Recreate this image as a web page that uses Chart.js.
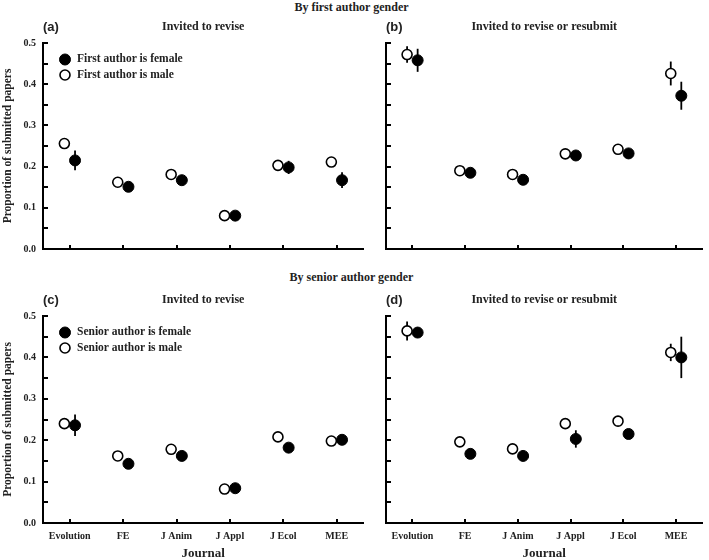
<!DOCTYPE html>
<html>
<head>
<meta charset="utf-8">
<script src="https://cdn.jsdelivr.net/npm/chart.js@4.4.1/dist/chart.umd.min.js"></script>
<style>
body { margin:0; background:#fff; width:709px; height:560px; position:relative; overflow:hidden; font-family:"Liberation Serif", serif; }
.box { position:absolute; }
.head { position:absolute; left:-3px; width:709px; text-align:center; font-weight:bold; font-size:12px; line-height:14px; color:#222; }
</style>
</head>
<body>
<div class="head" style="top:0px">By first author gender</div>
<div class="head" style="top:270px">By senior author gender</div>
<div class="box" style="left:0;top:0;width:370px;height:262px"><canvas id="chartA"></canvas></div>
<div class="box" style="left:370px;top:0;width:339px;height:262px"><canvas id="chartB"></canvas></div>
<div class="box" style="left:0;top:262px;width:370px;height:298px"><canvas id="chartC"></canvas></div>
<div class="box" style="left:370px;top:262px;width:339px;height:298px"><canvas id="chartD"></canvas></div>
<script>
var journals = ['Evolution', 'FE', 'J Anim', 'J Appl', 'J Ecol', 'MEE'];

// (a) first author, invited to revise
var aFemale    = [0.215, 0.151, 0.167, 0.081, 0.198, 0.167];
var aFemaleErr = [0.024, 0.007, 0.007, 0.006, 0.016, 0.019];
var aMale      = [0.256, 0.162, 0.181, 0.081, 0.203, 0.211];
var aMaleErr   = [0.008, 0.006, 0.006, 0.005, 0.006, 0.007];

// (b) first author, invited to revise or resubmit
var bFemale    = [0.458, 0.185, 0.168, 0.227, 0.232, 0.372];
var bFemaleErr = [0.028, 0.007, 0.007, 0.007, 0.007, 0.034];
var bMale      = [0.472, 0.190, 0.181, 0.231, 0.242, 0.426];
var bMaleErr   = [0.020, 0.007, 0.007, 0.007, 0.007, 0.029];

// (c) senior author, invited to revise
var cFemale    = [0.236, 0.143, 0.162, 0.084, 0.182, 0.201];
var cFemaleErr = [0.026, 0.007, 0.007, 0.006, 0.007, 0.008];
var cMale      = [0.240, 0.162, 0.178, 0.082, 0.208, 0.198];
var cMaleErr   = [0.008, 0.006, 0.006, 0.005, 0.006, 0.007];

// (d) senior author, invited to revise or resubmit
var dFemale    = [0.460, 0.167, 0.162, 0.203, 0.215, 0.400];
var dFemaleErr = [0.010, 0.008, 0.008, 0.021, 0.008, 0.050];
var dMale      = [0.464, 0.196, 0.179, 0.240, 0.246, 0.412];
var dMaleErr   = [0.023, 0.007, 0.007, 0.007, 0.007, 0.021];

var serif = 'Liberation Serif';

function toPoints(vals, shift) {
    return vals.map(function (v, i) { return { x: i + 1 + shift, y: v }; });
}

function line(ctx, x1, y1, x2, y2) {
    ctx.beginPath();
    ctx.moveTo(x1, y1);
    ctx.lineTo(x2, y2);
    ctx.stroke();
}

// inward ticks, error bars, panel titles and the inset legend
var panelDeco = {
    id: 'panelDeco',
    beforeDatasetsDraw: function (chart, args, opts) {
        var ctx = chart.ctx, a = chart.chartArea, x = chart.scales.x, y = chart.scales.y;
        ctx.save();
        ctx.strokeStyle = '#000';
        ctx.lineWidth = 2;
        for (var k = 0; k <= 10; k++) {
            var py = Math.round(y.getPixelForValue(k * 0.05));
            line(ctx, a.left, py, a.left + 5, py);
        }
        x.ticks.forEach(function (t) {
            var px = Math.round(x.getPixelForValue(t.value));
            line(ctx, px, a.bottom, px, a.bottom - 4);
        });
        ctx.lineWidth = 1.8;
        chart.data.datasets.forEach(function (ds) {
            ds.data.forEach(function (p, i) {
                var px = x.getPixelForValue(p.x);
                line(ctx, px, y.getPixelForValue(p.y - ds.err[i]), px, y.getPixelForValue(p.y + ds.err[i]));
            });
        });
        ctx.restore();
    },
    afterDraw: function (chart, args, opts) {
        var ctx = chart.ctx, a = chart.chartArea;
        ctx.save();
        ctx.fillStyle = '#222';
        ctx.textBaseline = 'middle';
        ctx.textAlign = 'left';
        ctx.font = 'bold 13px "Liberation Sans"';
        ctx.fillText(opts.letter, a.left, a.top - 16);
        ctx.textAlign = 'center';
        ctx.font = 'bold 12px "' + serif + '"';
        ctx.fillText(opts.title, (a.left + a.right) / 2, a.top - 16);
        if (opts.legend) {
            var ds = chart.data.datasets;
            var rows = [a.top + 16.5, a.top + 32];
            ctx.textAlign = 'left';
            ctx.font = 'bold 11.5px "' + serif + '"';
            ds.forEach(function (d, i) {
                ctx.beginPath();
                ctx.arc(a.left + 22, rows[i], d.pointRadius, 0, Math.PI * 2);
                ctx.fillStyle = d.backgroundColor;
                ctx.fill();
                ctx.lineWidth = d.borderWidth;
                ctx.strokeStyle = '#000';
                ctx.stroke();
                ctx.fillStyle = '#222';
                ctx.fillText(d.label, a.left + 34, rows[i]);
            });
        }
        ctx.restore();
    }
};

function makePanel(id, p) {
    return new Chart(document.getElementById(id), {
        type: 'scatter',
        data: {
            datasets: [{
                label: p.femaleLabel,
                data: toPoints(p.female, 0.1),
                err: p.femaleErr,
                pointRadius: 5.5,
                backgroundColor: '#000',
                borderColor: '#000',
                borderWidth: 1
            }, {
                label: p.maleLabel,
                data: toPoints(p.male, -0.1),
                err: p.maleErr,
                pointRadius: 5,
                backgroundColor: '#fff',
                borderColor: '#000',
                borderWidth: 1.6
            }]
        },
        plugins: [panelDeco],
        options: {
            responsive: true,
            maintainAspectRatio: false,
            animation: false,
            layout: { padding: { top: p.top, right: p.right, left: 0, bottom: 0 } },
            plugins: {
                legend: { display: false },
                tooltip: { enabled: false },
                panelDeco: { letter: p.letter, title: p.title, legend: p.legend }
            },
            scales: {
                x: {
                    type: 'linear',
                    min: 0.5,
                    max: 6.5,
                    afterBuildTicks: function (s) {
                        s.ticks = journals.map(function (j, i) { return { value: i + 1 }; });
                    },
                    afterFit: function (s) { s.height = p.xh; },
                    grid: { display: false, drawTicks: false },
                    border: { color: '#000', width: 2 },
                    ticks: {
                        display: p.xLabels,
                        padding: 7,
                        color: '#222',
                        font: { family: serif, size: 10, weight: 'bold' },
                        callback: function (v) { return journals[v - 1]; }
                    },
                    title: {
                        display: p.xLabels,
                        text: 'Journal',
                        color: '#222',
                        padding: { top: 0, bottom: 0 },
                        font: { family: serif, size: 13, weight: 'bold', lineHeight: 1 }
                    }
                },
                y: {
                    min: 0,
                    max: 0.5,
                    afterFit: function (s) { s.width = p.yw; },
                    grid: { display: false, drawTicks: false },
                    border: { color: '#000', width: 2 },
                    ticks: {
                        display: p.yLabels,
                        stepSize: 0.1,
                        padding: 7,
                        color: '#222',
                        font: { family: serif, size: 10, weight: 'bold' },
                        callback: function (v) { return v.toFixed(1); }
                    },
                    title: {
                        display: p.yLabels,
                        text: 'Proportion of submitted papers',
                        color: '#222',
                        padding: { top: 1, bottom: 0 },
                        font: { family: serif, size: 11.5, weight: 'bold' }
                    }
                }
            }
        }
    });
}

makePanel('chartA', {
    letter: '(a)', title: 'Invited to revise', legend: true,
    femaleLabel: 'First author is female', maleLabel: 'First author is male',
    female: aFemale, femaleErr: aFemaleErr, male: aMale, maleErr: aMaleErr,
    top: 43, right: 5, xh: 13, yw: 43, xLabels: false, yLabels: true
});
makePanel('chartB', {
    letter: '(b)', title: 'Invited to revise or resubmit', legend: false,
    femaleLabel: 'First author is female', maleLabel: 'First author is male',
    female: bFemale, femaleErr: bFemaleErr, male: bMale, maleErr: bMaleErr,
    top: 43, right: 1, xh: 13, yw: 16, xLabels: false, yLabels: false
});
makePanel('chartC', {
    letter: '(c)', title: 'Invited to revise', legend: true,
    femaleLabel: 'Senior author is female', maleLabel: 'Senior author is male',
    female: cFemale, femaleErr: cFemaleErr, male: cMale, maleErr: cMaleErr,
    top: 54, right: 5, xh: 37, yw: 43, xLabels: true, yLabels: true
});
makePanel('chartD', {
    letter: '(d)', title: 'Invited to revise or resubmit', legend: false,
    femaleLabel: 'Senior author is female', maleLabel: 'Senior author is male',
    female: dFemale, femaleErr: dFemaleErr, male: dMale, maleErr: dMaleErr,
    top: 54, right: 1, xh: 37, yw: 16, xLabels: true, yLabels: false
});
</script>
</body>
</html>
